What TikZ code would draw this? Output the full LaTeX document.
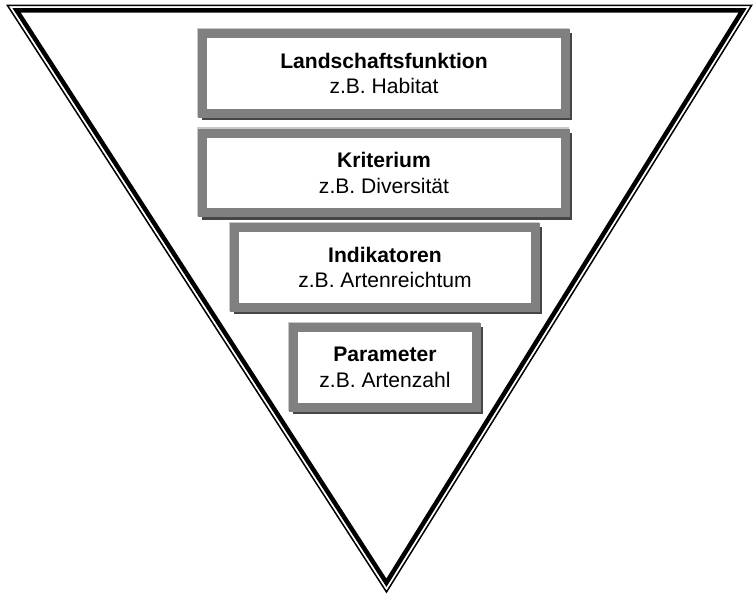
\documentclass[tikz,border=0pt]{standalone}
\usepackage{fontspec}
\setmainfont{Liberation Sans}
\definecolor{rahmengrau}{RGB}{128,128,128}
\definecolor{schattengrau}{RGB}{70,70,70}
\definecolor{hellgrau}{RGB}{200,200,200}

\begin{document}
\begin{tikzpicture}[x=0.02cm,y=-0.02cm,
	stufe/.style={draw=rahmengrau,line width=0.18cm,fill=white,align=center,inner sep=0pt,minimum height=1.6cm,font=\fontsize{12}{14.7}\selectfont},
	schatten/.style={fill=schattengrau},
	hell/.style={fill=hellgrau}]
	\useasboundingbox (0,0) rectangle (753,594);
	% Trichter
	\coordinate (a) at (7.5,5.5);
	\coordinate (b) at (751.5,5.5);
	\coordinate (c) at (386.5,592);
	\coordinate (ai) at (16.7,10.5);
	\coordinate (bi) at (742.5,10.5);
	\coordinate (ci) at (386.4,582.7);
	\draw[line width=0.03cm] (a)--(b)--(c)--cycle;
	\draw[line width=0.09cm] (ai)--(bi)--(ci)--cycle;
	% Stufen
	\node[stufe,minimum width=7.26cm] (funktion) at (384,73.5) {\textbf{Landschaftsfunktion}\\z.B. Habitat};
	\node[stufe,minimum width=7.26cm] (kriterium) at (384,173) {\textbf{Kriterium}\\z.B. Diversität};
	\node[stufe,minimum width=6.02cm] (indikator) at (385,267.5) {\textbf{Indikatoren}\\z.B. Artenreichtum};
	\node[stufe,minimum width=3.66cm] (parameter) at (385,367.5) {\textbf{Parameter}\\z.B. Artenzahl};
	\foreach \n in {funktion,kriterium,indikator,parameter}{
		\fill[schatten] ([shift={(0,4)}]\n.north east) rectangle ([shift={(2.3,2.3)}]\n.south east);
		\fill[schatten] ([shift={(4,0)}]\n.south west) rectangle ([shift={(2.3,2.3)}]\n.south east);
		\fill[hell] ([shift={(-1.5,-1.5)}]\n.north west) rectangle ([shift={(-1,0)}]\n.north east);
		\fill[hell] ([shift={(-1.5,-1.5)}]\n.north west) rectangle ([shift={(0,-1)}]\n.south west);
	}
\end{tikzpicture}
\end{document}
